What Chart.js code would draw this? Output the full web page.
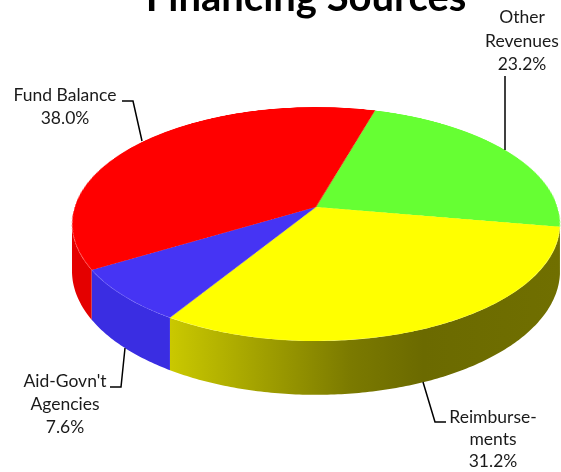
<!DOCTYPE html>
<html>
<head>
<meta charset="utf-8">
<title>Financing Sources</title>
<script src="https://cdn.jsdelivr.net/npm/chart.js@4.4.1/dist/chart.umd.min.js"></script>
<style>
  html, body { margin: 0; padding: 0; background: #fff; }
  #wrap { width: 561px; height: 472px; }
</style>
</head>
<body>
<div id="wrap"><canvas id="pieChart" width="561" height="472"></canvas></div>
<script>
const sources = ['Other Revenues', 'Reimbursements', "Aid-Govn't Agencies", 'Fund Balance'];
const shares = [23.2, 31.2, 7.6, 38.0];
const labelLines = [['Other', 'Revenues'], ['Reimburse-', 'ments'], ["Aid-Govn't", 'Agencies'], ['Fund Balance']];

const topColors = ['#66ff33', '#ffff00', '#4634f4', '#ff0000'];
// side wall shading, stops across the pie's width (0 = left rim, 1 = right rim)
const wallStops = [
    [[0, '#44aa22'], [1, '#44aa22']],
    [[0.19, '#cccb00'], [0.38, '#a3a200'], [0.57, '#7b7a00'], [0.72, '#6b6a00'], [1, '#706f00']],
    [[0, '#3a2de2'], [1, '#3a2de2']],
    [[0, '#e40000'], [1, '#e40000']]
];

// perspective view of the pie: rim top/bottom, centre point, widest half-width
const view = { cx: 316, apexY: 207, topY: 107, bottomY: 341, halfWidth: 244, depth: 46 };
const persp = (() => {
    const p = view.apexY, T = view.topY, B = view.bottomY;
    const d = (2 * p - T - B) / (B - T);
    const q = B + B * d - p;
    const A = view.halfWidth * Math.sqrt(1 - d * d);
    return { p, q, d, A };
})();

// callout placement: text centre x, first baseline, line step, leader polyline
const callouts = [
    { x: 522, y: 23, step: 23.5, leader: [[505, 76], [505, 150]] },
    { x: 493, y: 423, step: 22, leader: [[423, 382], [435, 422], [446, 422]] },
    { x: 65, y: 387, step: 23, leader: [[110, 387], [121, 387], [125, 348]] },
    { x: 65, y: 101, step: 23, leader: [[122, 101], [133, 101], [142, 141]] }
];

// rim point for angle t (canvas radians)
function rim(t) {
    const s = Math.sin(t), w = 1 + persp.d * s;
    return { x: view.cx + persp.A * Math.cos(t) / w, y: (persp.p + persp.q * s) / w, k: 1 / w };
}

// flat row offset v (-1 far .. 1 near) for screen row y
function rowToV(y) {
    return (y - persp.p) / (persp.q - persp.d * y);
}

function frontRanges(s, e) {
    const lo0 = Math.asin(-persp.d), hi0 = Math.PI - lo0;
    const out = [];
    for (let k = -1; k <= 1; k++) {
        const lo = Math.max(s, 2 * Math.PI * k + lo0);
        const hi = Math.min(e, 2 * Math.PI * k + hi0);
        if (hi > lo) out.push([lo, hi]);
    }
    return out;
}

function wallFill(ctx, i) {
    const g = ctx.createLinearGradient(view.cx - view.halfWidth, 0, view.cx + view.halfWidth, 0);
    wallStops[i].forEach(([p, c]) => g.addColorStop(p, c));
    return g;
}

const perspectivePlugin = {
    id: 'perspective',
    afterDatasetsDraw(chart) {
        const ctx = chart.ctx;
        const cv = chart.canvas;
        const arcs = chart.getDatasetMeta(0).data;
        const R = arcs[0].outerRadius, x0 = arcs[0].x, y0 = arcs[0].y;

        // keep the flat pie, then lay it down in perspective
        const flat = document.createElement('canvas');
        flat.width = cv.width;
        flat.height = cv.height;
        flat.getContext('2d').drawImage(cv, 0, 0);

        ctx.save();
        ctx.setTransform(1, 0, 0, 1, 0, 0);
        ctx.clearRect(0, 0, cv.width, cv.height);

        // side walls
        arcs.forEach((arc, i) => {
            frontRanges(arc.startAngle, arc.endAngle).forEach(([a0, a1]) => {
                const n = Math.max(8, Math.ceil((a1 - a0) * 80));
                const top = [], bot = [];
                for (let j = 0; j <= n; j++) {
                    const r = rim(a0 + (a1 - a0) * j / n);
                    top.push([r.x, r.y]);
                    bot.push([r.x, r.y + view.depth * r.k]);
                }
                ctx.beginPath();
                top.forEach(([x, y], j) => j ? ctx.lineTo(x, y) : ctx.moveTo(x, y));
                bot.reverse().forEach(([x, y]) => ctx.lineTo(x, y));
                ctx.closePath();
                ctx.fillStyle = wallFill(ctx, i);
                ctx.fill();
            });
        });

        // top face, one screen row at a time
        for (let y = Math.floor(view.topY); y < Math.ceil(view.bottomY); y++) {
            const v0 = Math.max(-1, rowToV(y));
            const v1 = Math.min(1, rowToV(y + 1));
            if (v1 <= v0) continue;
            const vm = rowToV(y + 0.5);
            const half = persp.A / (1 + persp.d * vm);
            ctx.drawImage(flat, x0 - R, y0 + v0 * R, 2 * R, (v1 - v0) * R,
                view.cx - half, y, 2 * half, 1);
        }
        ctx.restore();
    },
    afterDraw(chart) {
        const ctx = chart.ctx;
        ctx.save();

        ctx.fillStyle = '#000';
        ctx.textAlign = 'center';
        ctx.textBaseline = 'alphabetic';
        ctx.font = 'bold 40px Lato';
        ctx.fillText('Financing Sources', 306, 11);

        ctx.font = '17.5px Lato';
        ctx.fillStyle = '#1a1a1a';
        ctx.strokeStyle = '#000';
        ctx.lineWidth = 1.5;
        callouts.forEach((c, i) => {
            const lines = labelLines[i].concat(shares[i].toFixed(1) + '%');
            lines.forEach((t, j) => ctx.fillText(t, c.x, c.y + j * c.step));
            ctx.beginPath();
            c.leader.forEach(([x, y], j) => j ? ctx.lineTo(x, y) : ctx.moveTo(x, y));
            ctx.stroke();
        });
        ctx.restore();
    }
};

new Chart(document.getElementById('pieChart'), {
    type: 'pie',
    data: {
        labels: sources,
        datasets: [{
            data: shares,
            backgroundColor: topColors,
            borderWidth: 0,
            hoverOffset: 0
        }]
    },
    options: {
        responsive: false,
        animation: false,
        events: [],
        rotation: 16.2,
        layout: { padding: 0 },
        plugins: {
            legend: { display: false },
            tooltip: { enabled: false }
        }
    },
    plugins: [perspectivePlugin]
});
</script>
</body>
</html>
